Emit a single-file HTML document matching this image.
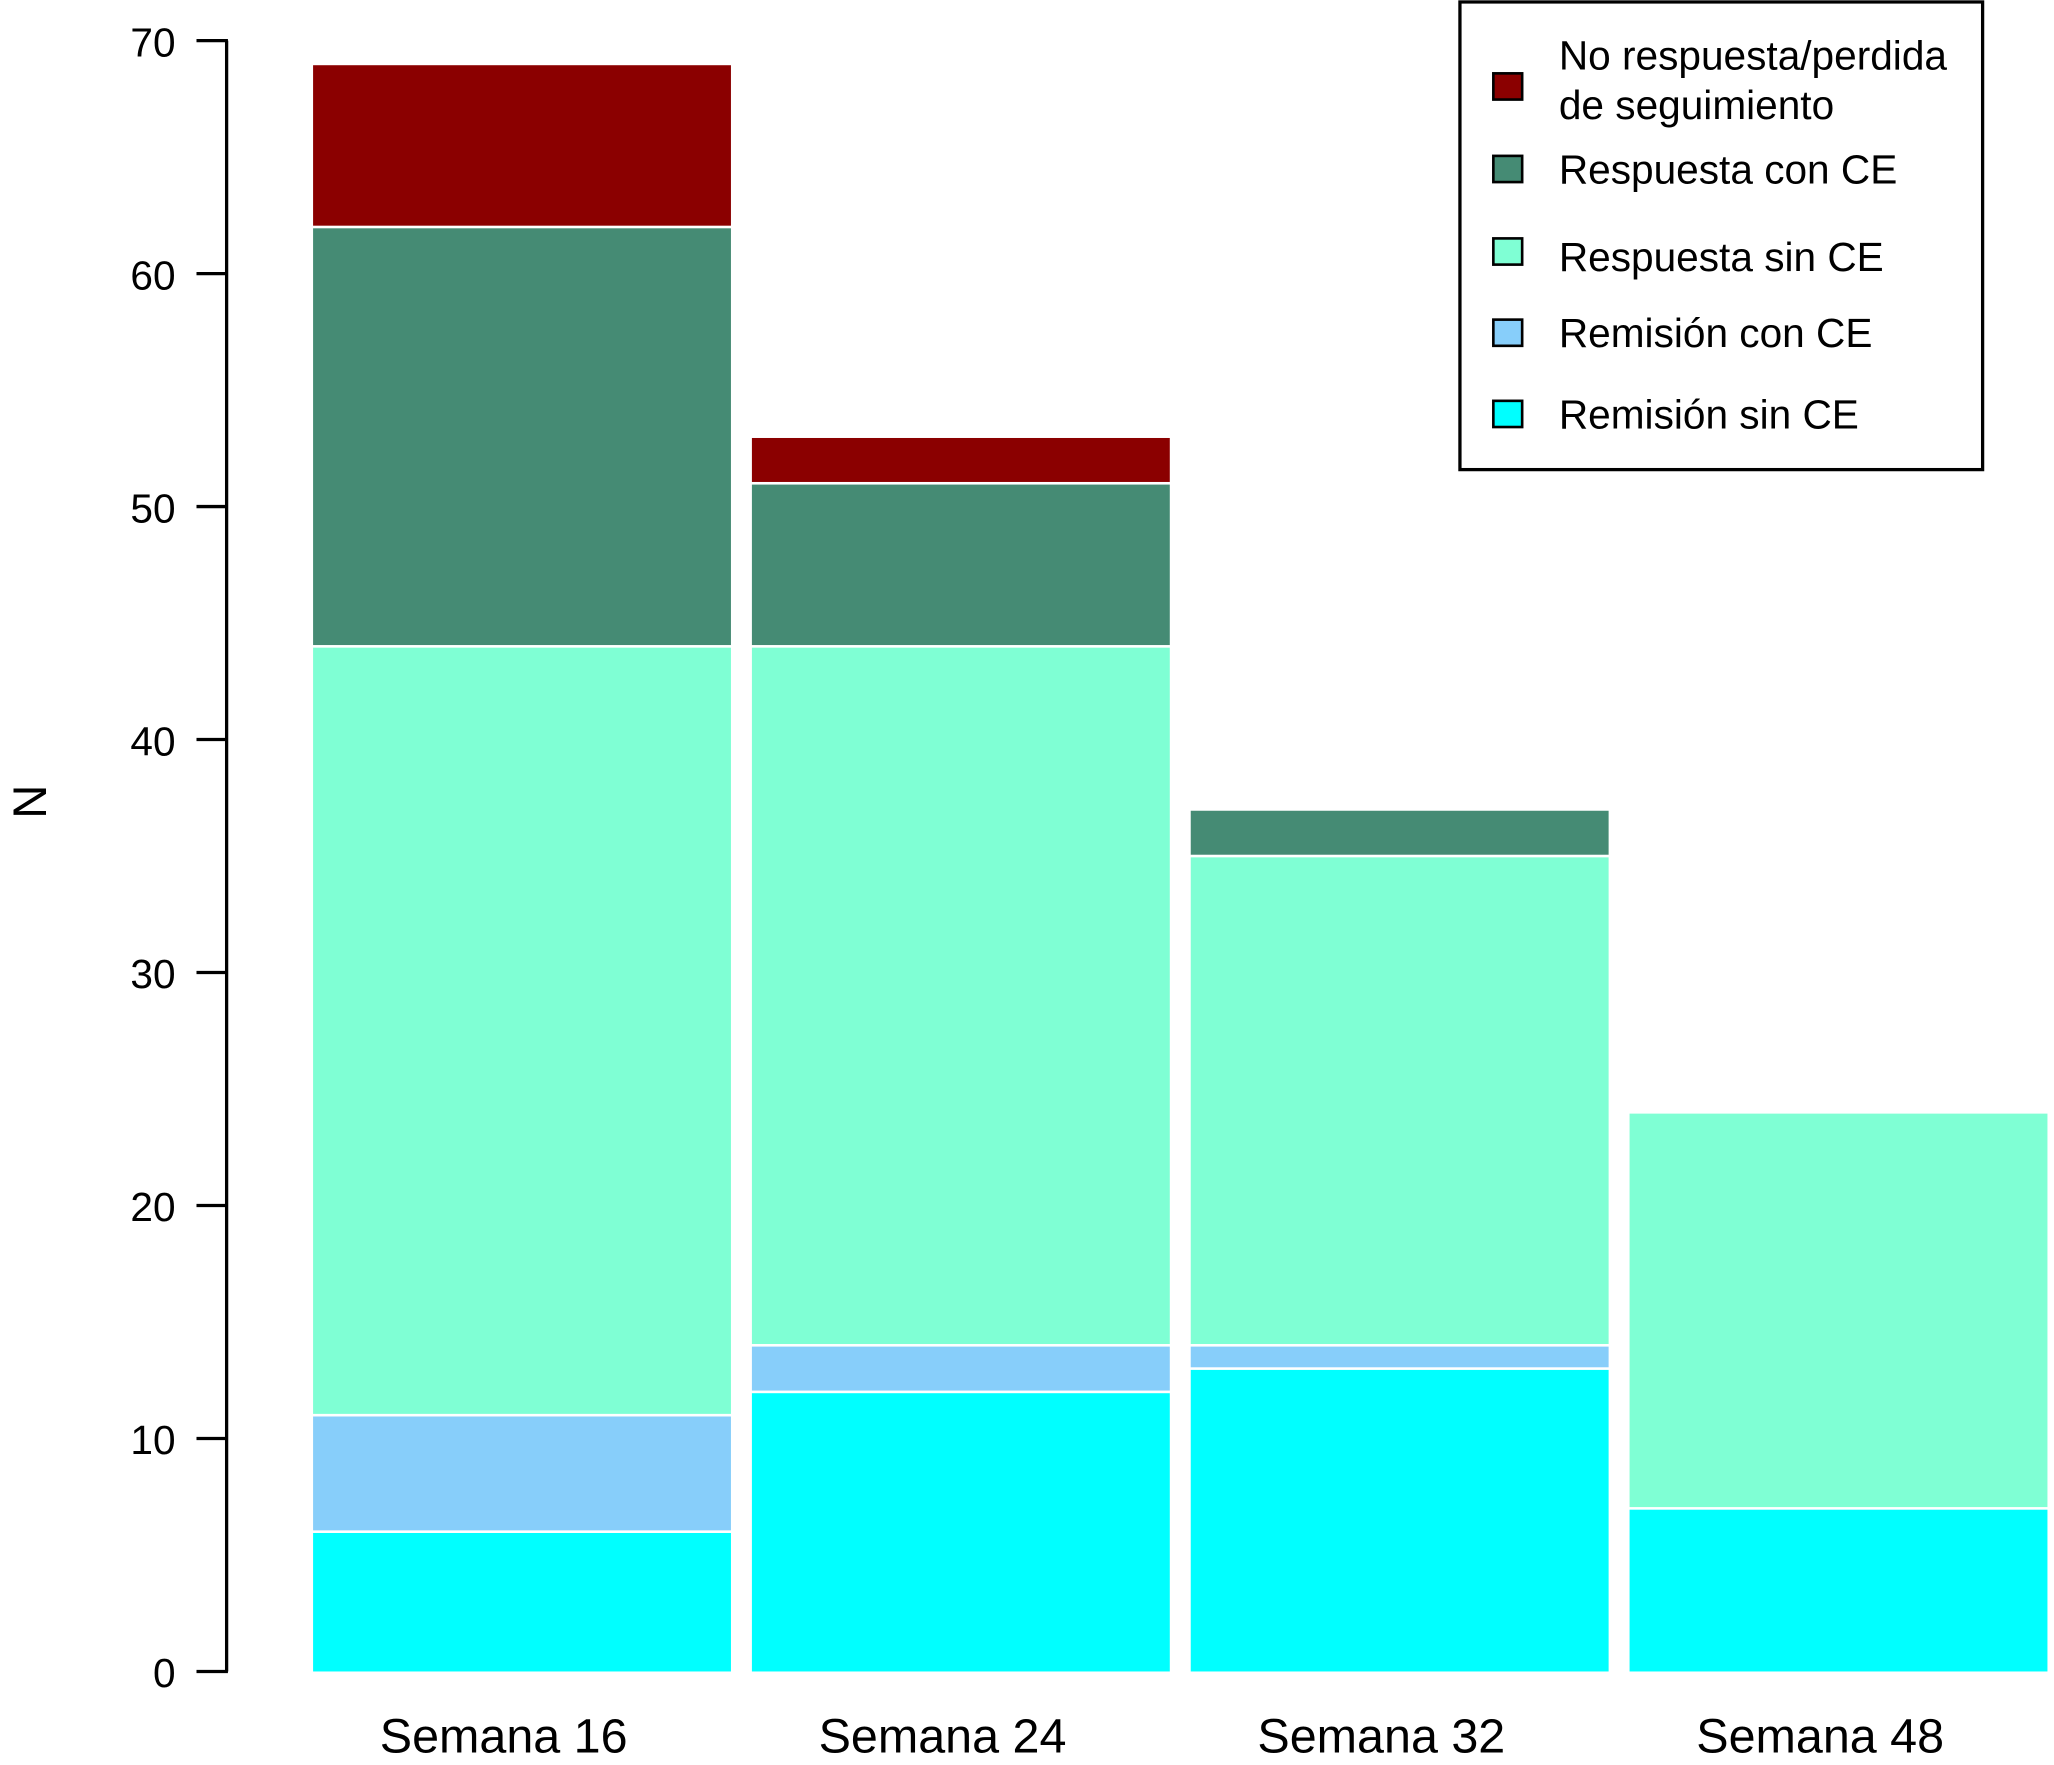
<!DOCTYPE html>
<html><head><meta charset="utf-8"><style>
html,body{margin:0;padding:0;background:#fff;}
svg{display:block;font-family:"Liberation Sans",Arial,sans-serif;}
</style></head>
<body>
<svg id="chart" width="2054" height="1765" viewBox="0 0 1568 1347.4" preserveAspectRatio="none" xmlns="http://www.w3.org/2000/svg">
<g id="bars"></g>
<g id="axis"></g>
<g id="xlabels"></g>
<text x="0" y="0" transform="translate(35,612) rotate(-90)" text-anchor="middle" font-size="36">N</text>
<g>
<rect x="1114.5" y="1.5" width="399" height="357" fill="#fff" stroke="#000" stroke-width="2.5"/>
<g id="legend-items"></g>
</g>
</svg>
<script>
const categories = ["Semana 16","Semana 24","Semana 32","Semana 48"];
const seriesNames = ["Remisión sin CE","Remisión con CE","Respuesta sin CE","Respuesta con CE","No respuesta/perdida de seguimiento"];
const remisionSin = [6,12,13,7];
const remisionCon = [5,2,1,0];
const respuestaSin = [33,30,21,17];
const respuestaCon = [18,7,2,0];
const noRespuesta = [7,2,0,0];
const yTicks = [0,10,20,30,40,50,60,70];
const colors = ["#00FFFF","#87CEFA","#7FFFD4","#458B74","#8B0000"];
const series = [remisionSin,remisionCon,respuestaSin,respuestaCon,noRespuesta];

const NS="http://www.w3.org/2000/svg";
const y0=1276, y70=31, yMax=70;
function yScale(v){return y0-(y0-y70)*v/yMax;}
const barStart=239, barW=319, barGap=16;
function xScale(i){return barStart+i*(barW+barGap);}

const gBars=document.getElementById('bars');
categories.forEach((c,i)=>{
  let cum=0;
  series.forEach((s,k)=>{
    const v=s[i]; if(!v){return;}
    const r=document.createElementNS(NS,'rect');
    const top=yScale(cum+v), bot=yScale(cum);
    r.setAttribute('x',xScale(i));
    r.setAttribute('y',top+1);
    r.setAttribute('width',barW);
    r.setAttribute('height',Math.max(0,bot-top-(cum===0?1:2)));
    r.setAttribute('fill',colors[k]);
    
    
    gBars.appendChild(r);
    cum+=v;
  });
  const t=document.createElementNS(NS,'text');
  t.setAttribute('x',xScale(i)+barW/2-14);
  t.setAttribute('y',1338);
  t.setAttribute('text-anchor','middle');
  t.setAttribute('font-size','37');
  
  
  t.textContent=c;
  document.getElementById('xlabels').appendChild(t);
});

const gA=document.getElementById('axis');
const ax=document.createElementNS(NS,'line');
ax.setAttribute('x1',173);ax.setAttribute('x2',173);
ax.setAttribute('y1',yScale(70));ax.setAttribute('y2',yScale(0));
ax.setAttribute('stroke','#000');ax.setAttribute('stroke-width','2.5');


gA.appendChild(ax);
yTicks.forEach(v=>{
  const l=document.createElementNS(NS,'line');
  l.setAttribute('x1',150);l.setAttribute('x2',174);
  l.setAttribute('y1',yScale(v));l.setAttribute('y2',yScale(v));
  l.setAttribute('stroke','#000');l.setAttribute('stroke-width','2.5');
  
  
  gA.appendChild(l);
  const t=document.createElementNS(NS,'text');
  t.setAttribute('x',134);t.setAttribute('y',yScale(v)+12);
  t.setAttribute('text-anchor','end');t.setAttribute('font-size','31');
  
  
  t.textContent=v;
  gA.appendChild(t);
});

const legY=[66,129,192,254,316];
const legOrder=[4,3,2,1,0];
const gL=document.getElementById('legend-items');
legOrder.forEach((k,j)=>{
  const r=document.createElementNS(NS,'rect');
  r.setAttribute('x',1140);r.setAttribute('y',legY[j]-10);
  r.setAttribute('width',22);r.setAttribute('height',20);
  r.setAttribute('fill',colors[k]);r.setAttribute('stroke','#000');r.setAttribute('stroke-width','2');
  
  
  gL.appendChild(r);
  const t=document.createElementNS(NS,'text');
  t.setAttribute('x',1190);t.setAttribute('font-size','31');
  
  
  if(k===4){
    t.setAttribute('y',53);
    const a=document.createElementNS(NS,'tspan');a.setAttribute('x',1190);a.textContent='No respuesta/perdida';
    const b=document.createElementNS(NS,'tspan');b.setAttribute('x',1190);b.setAttribute('dy','38');b.textContent='de seguimiento';
    t.appendChild(a);t.appendChild(b);
  } else {
    t.setAttribute('y',legY[j]+(k===2?15:11));
    t.textContent=seriesNames[k];
  }
  gL.appendChild(t);
});
</script>
</body></html>
